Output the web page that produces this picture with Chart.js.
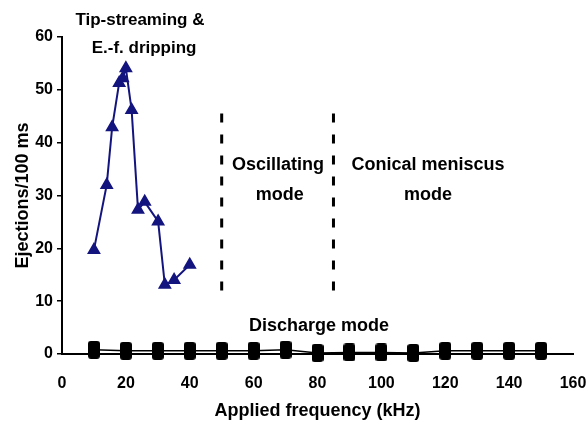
<!DOCTYPE html>
<html>
<head>
<meta charset="utf-8">
<script src="https://cdn.jsdelivr.net/npm/chart.js@4/dist/chart.umd.min.js"></script>
<style>
    html, body { margin: 0; padding: 0; background: #fff; }
    #wrap { width: 588px; height: 439px; }
</style>
</head>
<body>
<div id="wrap"><canvas id="chart"></canvas></div>
<script>
// tip-streaming / e.-f. dripping (blue triangles)
const tipFreq = [10, 14, 15.7, 17.9, 19, 20, 21.8, 23.8, 25.9, 30.1, 32.2, 35.1, 40];
const tipEjections = [19.7, 32, 42.9, 51.3, 52.2, 54.1, 46.2, 27.3, 28.8, 25.1, 13.1, 14, 16.9];

// discharge mode (black squares)
const dischargeFreq = [10, 20, 30, 40, 50, 60, 70, 80, 90, 100, 110, 120, 130, 140, 150];
const dischargeEjections = [0.8, 0.6, 0.6, 0.6, 0.6, 0.6, 0.8, 0.2, 0.3, 0.3, 0.2, 0.6, 0.6, 0.6, 0.6];

// mode boundaries (kHz) and their vertical extent
const boundaryFreq = [50, 85];
const boundarySpan = [10, 45.5];

const xTicks = [0, 20, 40, 60, 80, 100, 120, 140, 160];
const yTicks = [0, 10, 20, 30, 40, 50, 60];

const notes = [
    { text: 'Tip-streaming &', x: 24.4, y: 63.2, size: 17 },
    { text: 'E.-f. dripping', x: 25.7, y: 57.9, size: 17 },
    { text: 'Oscillating', x: 67.6, y: 35.8, size: 18 },
    { text: 'mode', x: 68.2, y: 30.1, size: 18 },
    { text: 'Conical meniscus', x: 114.6, y: 35.8, size: 18 },
    { text: 'mode', x: 114.6, y: 30.1, size: 18 },
    { text: 'Discharge mode', x: 80.5, y: 5.3, size: 18 }
];

const FONT = "'Liberation Sans', Arial, sans-serif";
const NARROW = "'Liberation Sans Narrow', 'Liberation Sans', Arial, sans-serif";

function toPoints(xs, ys){
    return xs.map((x, i) => ({ x: x, y: ys[i] }));
}

// tall rounded block used as the discharge marker
function makeBlock(){
    const c = document.createElement('canvas');
    c.width = 12;
    c.height = 18;
    const g = c.getContext('2d');
    g.fillStyle = '#000';
    g.beginPath();
    g.roundRect(0, 0, 12, 18, 3);
    g.fill();
    return c;
}

const noteLabels = {
    id: 'noteLabels',
    afterDatasetsDraw(chart){
        const ctx = chart.ctx;
        const xs = chart.scales.x, ys = chart.scales.y;
        ctx.save();
        ctx.fillStyle = '#000';
        ctx.textAlign = 'center';
        ctx.textBaseline = 'middle';
        notes.forEach(n => {
            ctx.font = 'bold ' + n.size + 'px ' + FONT;
            ctx.fillText(n.text, xs.getPixelForValue(n.x), ys.getPixelForValue(n.y));
        });
        ctx.restore();
    }
};

let datasets = [
    {
        label: 'Tip-streaming',
        data: toPoints(tipFreq, tipEjections),
        borderColor: '#14147f',
        backgroundColor: '#14147f',
        borderWidth: 2,
        pointStyle: 'triangle',
        pointRadius: 6,
        order: 1
    },
    {
        label: 'Discharge',
        data: toPoints(dischargeFreq, dischargeEjections),
        borderColor: '#000',
        backgroundColor: '#000',
        borderWidth: 1.5,
        pointStyle: makeBlock(),
        pointRadius: 8,
        clip: false,
        order: 2
    }
];

boundaryFreq.forEach(f => {
    datasets.push({
        label: 'boundary ' + f,
        data: [{ x: f, y: boundarySpan[1] }, { x: f, y: boundarySpan[0] }],
        borderColor: '#000',
        borderWidth: 3,
        borderDash: [9, 12],
        pointRadius: 0,
        order: 5
    });
});

const config = {
    type: 'line',
    data: { datasets: datasets },
    options: {
        responsive: true,
        maintainAspectRatio: false,
        animation: false,
        layout: { padding: { left: 8, right: 15, top: 37, bottom: 13 } },
        plugins: {
            legend: { display: false },
            tooltip: { enabled: false }
        },
        scales: {
            x: {
                type: 'linear',
                min: 0,
                max: 160,
                afterBuildTicks: s => { s.ticks = xTicks.map(v => ({ value: v })); },
                afterFit: s => { s.height = 72; s.paddingLeft = 0; s.paddingRight = 0; },
                ticks: {
                    color: '#000',
                    padding: 20,
                    maxRotation: 0,
                    font: { family: NARROW, size: 16, weight: 'bold' }
                },
                grid: { display: true, drawOnChartArea: false, drawTicks: false },
                border: { color: '#000', width: 2 },
                title: {
                    display: true,
                    text: 'Applied frequency (kHz)',
                    color: '#000',
                    font: { family: NARROW, size: 18, weight: 'bold' }
                }
            },
            y: {
                min: 0,
                max: 60,
                afterBuildTicks: s => { s.ticks = yTicks.map(v => ({ value: v })); },
                afterFit: s => { s.width = 54; },
                ticks: {
                    color: '#000',
                    padding: 4,
                    font: { family: NARROW, size: 16, weight: 'bold' }
                },
                grid: { drawOnChartArea: false, drawTicks: true, tickLength: 5, color: '#000', lineWidth: 1.5 },
                border: { color: '#000', width: 2 },
                title: {
                    display: true,
                    text: 'Ejections/100 ms',
                    color: '#000',
                    font: { family: FONT, size: 18, weight: 'bold' }
                }
            }
        }
    },
    plugins: [noteLabels]
};

new Chart(document.getElementById('chart').getContext('2d'), config);
</script>
</body>
</html>
